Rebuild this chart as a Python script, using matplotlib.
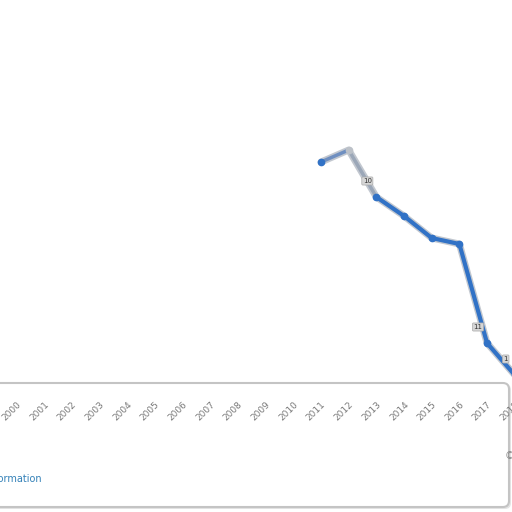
import matplotlib.pyplot as plt
from matplotlib.patches import FancyBboxPatch

# years shown on the axis and the values of the line
years = list(range(2000, 2019))
line_years = [2011, 2012, 2013, 2014, 2015, 2016, 2017, 2018]
values = [221, 233, 186, 167, 145, 139, 40, 8]
label_years = [2013, 2017, 2018]
label_texts = ["10", "11", "1"]

px_per_year = 27.67
x0 = 2011 - 321 / px_per_year   # year at the left edge of the picture

fig = plt.figure(figsize=(5.12, 5.12), dpi=100)

# line axes, covering the whole picture
ax = fig.add_axes([0, 0, 1, 1])
ax.set_xlim(x0, x0 + 512 / px_per_year)
ax.set_ylim(-129, 383)
ax.axis("off")

ax.plot(line_years, values, color="#b3bac4", lw=5, alpha=0.8, solid_capstyle="round", zorder=1)
# first part of the line looks faded
ax.plot(line_years[:2], values[:2], color="#6f8fc0", lw=2.5, zorder=2)
ax.plot(line_years[1:3], values[1:3], color="#9ba7b8", lw=2.5, zorder=2)
ax.plot(line_years[2:], values[2:], color="#3172c6", lw=3, marker="o", ms=4.5, zorder=2)
ax.plot(line_years[:1], values[:1], color="#3172c6", marker="o", ms=4.5, lw=0, zorder=3)
ax.plot(line_years[1:2], values[1:2], color="#bcc1c8", marker="o", ms=4.5, lw=0, zorder=3)

for yr, txt in zip(label_years, label_texts):
    v = values[line_years.index(yr)]
    ax.annotate(txt, (yr, v), xytext=(-9, 16), textcoords="offset pixels",
                ha="center", va="center", fontsize=5, color="#333333",
                annotation_clip=False, zorder=4,
                bbox=dict(boxstyle="round,pad=0.15", fc="#d6d6d6", ec="#aaaaaa", lw=0.5))

# bottom panel (shadow + box)
shadow = FancyBboxPatch((-10 / 512, 3 / 512), 521 / 512, 125 / 512,
                        boxstyle="round,pad=0,rounding_size=0.012",
                        transform=fig.transFigure, fc="#e4e4e4", ec="none", zorder=4)
panel = FancyBboxPatch((-10 / 512, 5 / 512), 519 / 512, 124 / 512,
                       boxstyle="round,pad=0,rounding_size=0.012",
                       transform=fig.transFigure, fc="white", ec="#c4c4c4", lw=1.5, zorder=5)
fig.patches.extend([shadow, panel])

# tick labels of the panel, extended a bit to the right so 2018 shows cut off
ax2 = fig.add_axes([0, (512 - 397) / 512, 540 / 512, 0.01])
ax2.set_zorder(6)
ax2.patch.set_visible(False)
for s in ax2.spines.values():
    s.set_visible(False)
ax2.set_xlim(x0, x0 + 540 / px_per_year)
ax2.set_yticks([])
ax2.set_xticks(years)
ax2.set_xticklabels([str(y) for y in years], rotation=45, ha="right",
                    rotation_mode="anchor", fontsize=6.5, color="#7a7a7a")
ax2.tick_params(axis="x", length=0, pad=2)

fig.text(42 / 512, 1 - 479 / 512, "Additional Information", ha="right", va="center",
         fontsize=7, color="#3481b8", zorder=7)
fig.text(505 / 512, 1 - 456 / 512, "© Statista 2019", ha="left", va="center",
         fontsize=7, color="#888888", zorder=7)

fig.savefig("out.png", dpi=100)
